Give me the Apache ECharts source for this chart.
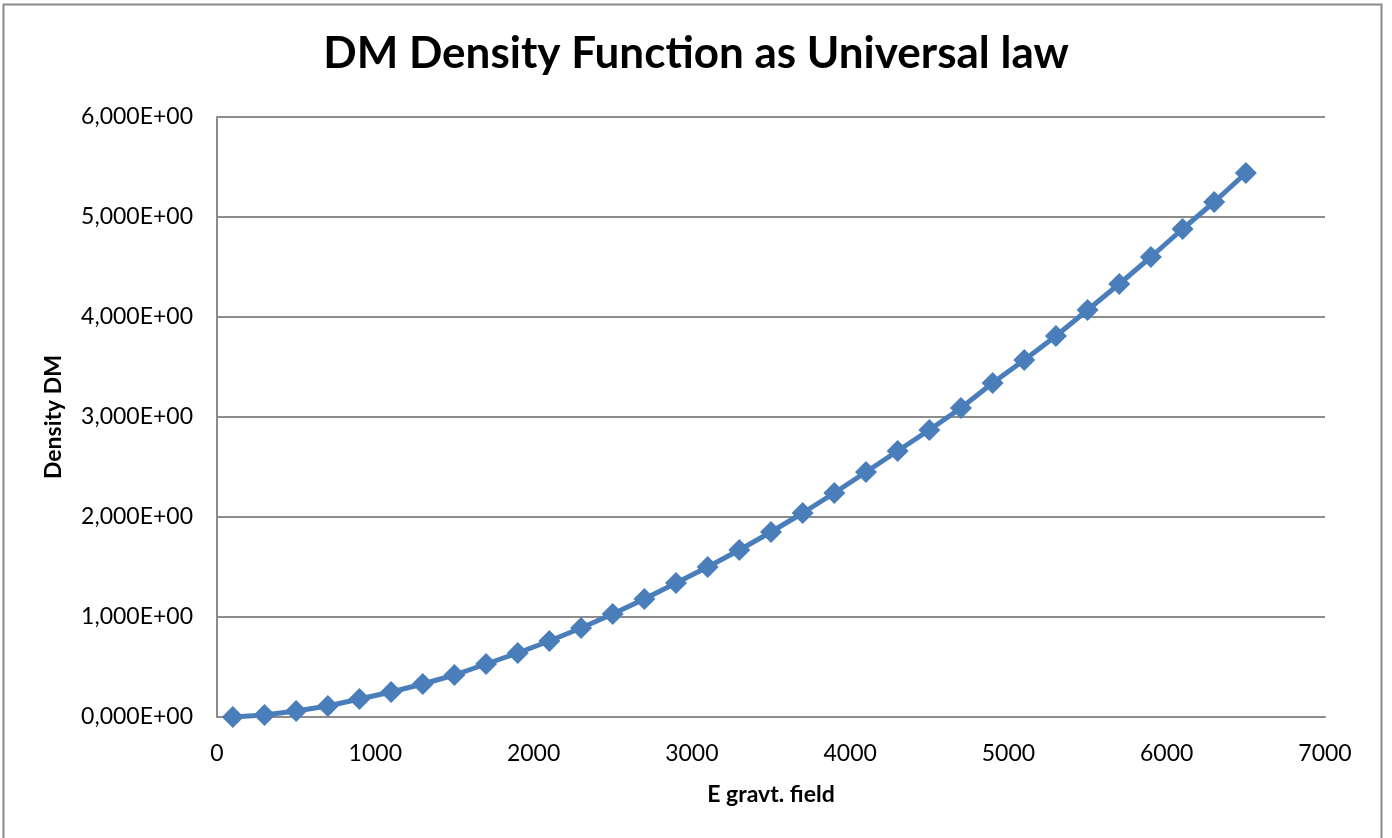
<!DOCTYPE html>
<html>
<head>
<meta charset="utf-8">
<script src="https://cdn.jsdelivr.net/npm/echarts@6/dist/echarts.min.js"></script>
<style>
html,body{margin:0;padding:0;background:#fff;}
#chart{width:1392px;height:838px;}
</style>
</head>
<body>
<div id="chart"></div>
<script>
const xValues = [100,300,500,700,900,1100,1300,1500,1700,1900,2100,2300,2500,2700,2900,3100,3300,3500,3700,3900,4100,4300,4500,4700,4900,5100,5300,5500,5700,5900,6100,6300,6500];
const densityValues = [0.00,0.02,0.06,0.11,0.18,0.25,0.33,0.42,0.53,0.64,0.76,0.89,1.03,1.18,1.34,1.50,1.67,1.85,2.04,2.24,2.45,2.66,2.87,3.09,3.34,3.57,3.81,4.07,4.33,4.60,4.88,5.15,5.44];
const yTickLabels = ['0,000E+00','1,000E+00','2,000E+00','3,000E+00','4,000E+00','5,000E+00','6,000E+00'];
const xTickLabels = ['0','1000','2000','3000','4000','5000','6000','7000'];
const titleText = 'DM Density Function as Universal law';
const xName = 'E gravt. field';
const yName = 'Density DM';

const font = 'Lato, "Open Sans", "DejaVu Sans", sans-serif';
const chart = echarts.init(document.getElementById('chart'), null, {renderer:'canvas'});
chart.setOption({
  backgroundColor:'#fff',
  animation:false,
  title:{
    text:titleText, left:'center', top:27,
    textStyle:{fontFamily:font, fontSize:44, fontWeight:'bold', color:'#000'}
  },
  graphic:[{
    type:'rect', silent:true,
    shape:{x:3.5,y:4.5,width:1378,height:900},
    style:{fill:'none', stroke:'#8a8a8a', lineWidth:2}
  }],
  grid:{left:217, right:67, top:117, bottom:121},
  xAxis:{
    type:'value', min:0, max:7000, interval:1000,
    name:xName, nameLocation:'middle', nameGap:66,
    nameTextStyle:{fontFamily:font, fontSize:23, fontWeight:'bold', color:'#000'},
    axisLine:{show:true, lineStyle:{color:'#8c8c8c', width:2}},
    axisTick:{show:false},
    splitLine:{show:false},
    axisLabel:{fontFamily:font, fontSize:23, color:'#000', margin:25,
      formatter:(v)=>xTickLabels[Math.round(v/1000)]}
  },
  yAxis:{
    type:'value', min:0, max:6, interval:1,
    name:yName, nameLocation:'middle', nameGap:152, nameRotate:90,
    nameTextStyle:{fontFamily:font, fontSize:23, fontWeight:'bold', color:'#000'},
    axisLine:{show:true, lineStyle:{color:'#8c8c8c', width:2}},
    axisTick:{show:false},
    splitLine:{show:true, lineStyle:{color:'#8c8c8c', width:2}},
    axisLabel:{fontFamily:font, fontSize:23, color:'#000', margin:24,
      formatter:(v)=>yTickLabels[Math.round(v)]}
  },
  series:[{
    type:'line',
    data:xValues.map((x,i)=>[x,densityValues[i]]),
    symbol:'diamond', symbolSize:22,
    lineStyle:{color:'#4a7ebb', width:5},
    itemStyle:{color:'#4a7ebb'},
    clip:false
  }]
});
</script>
</body>
</html>
